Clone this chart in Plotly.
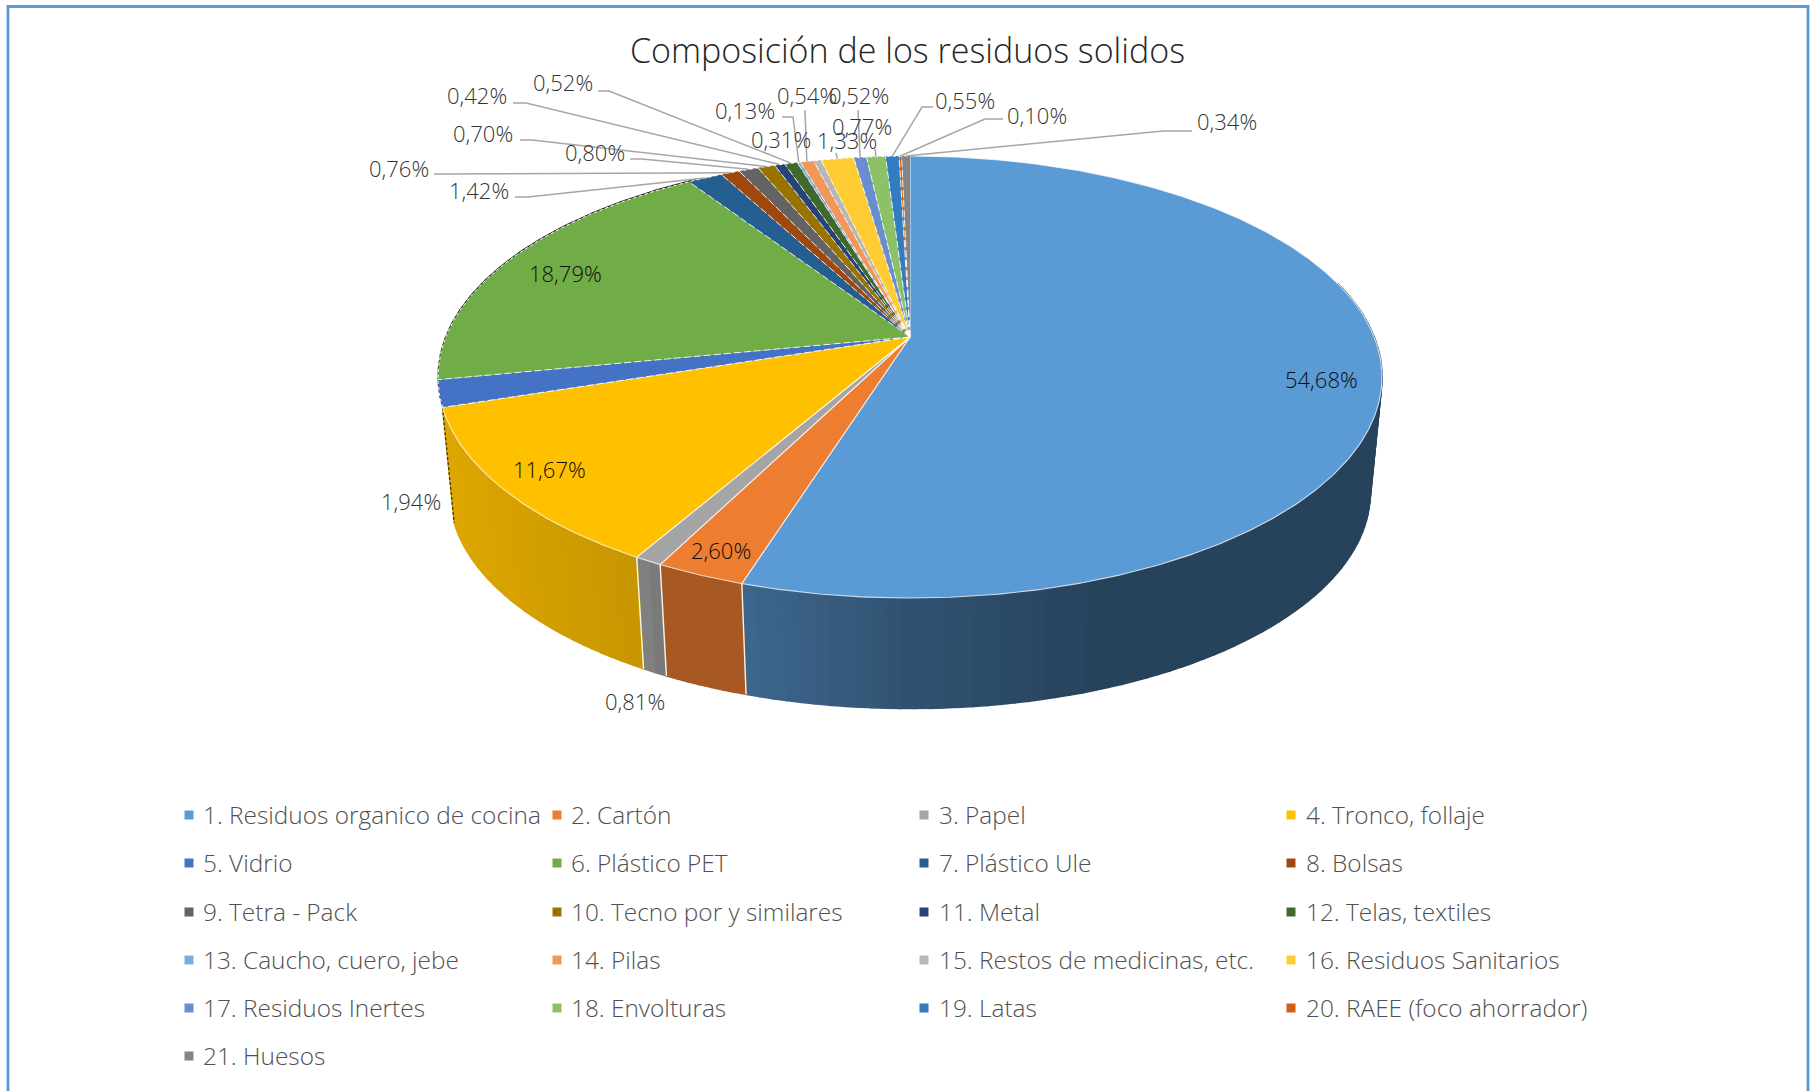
import numpy as np
import plotly.graph_objects as go

# Waste composition data (percent)
CATEGORIES = [
    "1. Residuos organico de cocina", "2. Cartón", "3. Papel", "4. Tronco, follaje",
    "5. Vidrio", "6. Plástico PET", "7. Plástico Ule", "8. Bolsas",
    "9. Tetra - Pack", "10. Tecno por y similares", "11. Metal", "12. Telas, textiles",
    "13. Caucho, cuero, jebe", "14. Pilas", "15. Restos de medicinas, etc.", "16. Residuos Sanitarios",
    "17. Residuos Inertes", "18. Envolturas", "19. Latas", "20. RAEE (foco ahorrador)",
    "21. Huesos",
]
VALUES = [54.68, 2.60, 0.81, 11.67, 1.94, 18.79, 1.42, 0.76, 0.80, 0.70, 0.42,
          0.52, 0.13, 0.54, 0.31, 1.33, 0.52, 0.77, 0.55, 0.10, 0.34]
COLORS = ["#5B9BD5", "#ED7D31", "#A5A5A5", "#FFC000", "#4472C4", "#70AD47", "#255E91",
          "#9E480E", "#636363", "#997300", "#264478", "#43682B", "#7CAFDD", "#F1975A",
          "#B7B7B7", "#FFCD33", "#698ED0", "#8CC168", "#327DC2", "#D26012", "#848484"]

W, H = 1815, 1091
FONT = "Open Sans"

# Perspective model of the pie disc, in page pixels
CX, Y_TOP, Y_BOT = 910.0, 337.0, 454.0
A, B, K, BOTTOM_SCALE = 464.2, 213.8, 0.181, 0.975
WALL_SLICES = 4  # only the first slices show a side wall from this viewpoint

# Wall brightness as a function of horizontal position
SHADE_X = [440, 640, 665, 742, 746, 910, 1100, 1380]
SHADE_F = [0.87, 0.78, 0.71, 0.71, 0.66, 0.53, 0.43, 0.43]

# Label centres and leader-line elbows, index-aligned with VALUES
LABEL_XY = [(1321, 379), (721, 550), (635, 701), (549, 469), (411, 501), (565, 273),
            (479, 190), (399, 168), (595, 152), (483, 133), (477, 95), (563, 82),
            (745, 110), (807, 95), (781, 139), (847, 140), (859, 95), (862, 126),
            (965, 100), (1037, 115), (1227, 121)]
LEADERS = [None, None, None, None, None, None,
           [(515, 197), (528, 197)], [(434, 174), (445, 174)], [(630, 159), (642, 159)],
           [(520, 140), (532, 140)], [(513, 103), (526, 103)], [(598, 91), (609, 91)],
           [(782, 117), (793, 117)], [(805, 110)], None, [(836, 153)],
           [(858, 110)], [(875, 149)], [(933, 107), (922, 107)], [(1003, 119), (985, 119)],
           [(1192, 131), (1163, 131)]]
DARK_LABELS = {0, 1, 3, 5}

LEGEND_MARK_X = [189, 557, 924, 1291]
LEGEND_TEXT_X = [201, 569, 937, 1304]
LEGEND_MARK_Y = [815, 863, 912, 960, 1008, 1056]
LEGEND_TEXT_DY = -1


def project(theta, bottom=False):
    """Map an angle clockwise from 12 o'clock on the disc rim to page pixels."""
    u, v = np.sin(theta), -np.cos(theta)
    d = 1 - K * v
    s = BOTTOM_SCALE if bottom else 1.0
    y0 = Y_BOT if bottom else Y_TOP
    return CX + s * A * u / d, y0 + s * B * v / d


def shade(color, x):
    f = float(np.interp(x, SHADE_X, SHADE_F))
    r, g, b = (int(color[i:i + 2], 16) for i in (1, 3, 5))
    return f"rgb({r * f:.0f},{g * f:.0f},{b * f:.0f})"


edges = np.concatenate([[0], np.cumsum(VALUES)]) / sum(VALUES) * 2 * np.pi
mids = (edges[:-1] + edges[1:]) / 2

fig = go.Figure()

# Side wall, drawn as narrow strips so the shading can vary along the rim
for i, color in enumerate(COLORS[:WALL_SLICES]):
    t0, t1 = edges[i], edges[i + 1]
    steps = max(1, int(np.ceil((t1 - t0) / np.radians(1.5))))
    grid = np.linspace(t0, t1, steps + 1)
    for a, b in zip(grid[:-1], grid[1:]):
        if -np.cos((a + b) / 2) < -0.25:
            continue
        xt, yt = project(np.array([a, b]))
        xb, yb = project(np.array([b, a]), bottom=True)
        c = shade(color, float(xt.mean()))
        fig.add_trace(go.Scatter(
            x=list(xt) + list(xb) + [xt[0]], y=list(yt) + list(yb) + [yt[0]],
            mode="lines", fill="toself", fillcolor=c, line=dict(color=c, width=1.6),
            hoverinfo="skip", showlegend=False))

# Light seams between the slices on the wall
for t in edges[1:WALL_SLICES]:
    xt, yt = project(t)
    xb, yb = project(t, bottom=True)
    fig.add_trace(go.Scatter(x=[xt, xb], y=[yt, yb], mode="lines",
                             line=dict(color="rgba(255,250,235,0.95)", width=1.4),
                             hoverinfo="skip", showlegend=False))

# Dark dashed edge where the wall of the far slices is seen edge-on
xt, yt = project(edges[WALL_SLICES])
xb, yb = project(edges[WALL_SLICES], bottom=True)
fig.add_trace(go.Scatter(x=[xt, xb], y=[yt, yb], mode="lines",
                         line=dict(color="#303030", width=1.2, dash="3px,2px"),
                         hoverinfo="skip", showlegend=False))
arc = np.linspace(edges[WALL_SLICES] - 0.02, edges[6] + 0.02, 160)
xa, ya = project(arc)
fig.add_trace(go.Scatter(x=xa, y=ya - 0.6, mode="lines",
                         line=dict(color="#202020", width=1.2),
                         hoverinfo="skip", showlegend=False))

# Top face of every slice
for i, (name, value, color) in enumerate(zip(CATEGORIES, VALUES, COLORS)):
    t0, t1 = edges[i], edges[i + 1]
    arc = np.linspace(t0, t1, max(2, int((t1 - t0) / np.radians(0.5)) + 2))
    xa, ya = project(arc)
    fig.add_trace(go.Scatter(
        x=[CX] + list(xa) + [CX], y=[Y_TOP] + list(ya) + [Y_TOP],
        mode="lines", fill="toself", fillcolor=color,
        line=dict(color="rgba(255,255,255,0.75)" if i < WALL_SLICES else "rgba(0,0,0,0)", width=1.1),
        name=name, text=f"{value:.2f}%".replace(".", ","), hoverinfo="name+text",
        showlegend=False))

# Broken white seams and rim on the far slices
for t in edges[WALL_SLICES:-1]:
    xe, ye = project(t)
    fig.add_trace(go.Scatter(x=[CX, xe], y=[Y_TOP, ye], mode="lines",
                             line=dict(color="rgba(255,255,255,0.85)", width=1.0, dash="7px,3px"),
                             hoverinfo="skip", showlegend=False))
arc = np.linspace(edges[WALL_SLICES], edges[-1], 220)
xa, ya = project(arc)
fig.add_trace(go.Scatter(x=xa, y=ya, mode="lines",
                         line=dict(color="white", width=1.0, dash="3px,3px"),
                         hoverinfo="skip", showlegend=False))

# Leader lines run from the label elbow to the middle of the slice's rim
for mid, elbow in zip(mids, LEADERS):
    if elbow is None:
        continue
    px, py = project(mid)
    fig.add_trace(go.Scatter(
        x=[p[0] for p in elbow] + [px], y=[p[1] for p in elbow] + [py],
        mode="lines", line=dict(color="#A6A6A6", width=1.5),
        hoverinfo="skip", showlegend=False))

annotations = []


def add_text(x, y, text, size, color, anchor="center"):
    annotations.append(dict(x=x, y=y, xref="x", yref="y", text=text, showarrow=False,
                            xanchor=anchor, yanchor="middle",
                            font=dict(family=FONT, size=size, color=color, weight=300)))


add_text(907.5, 50, "Composición de los residuos solidos", 34, "#262626")

for i, (value, (lx, ly)) in enumerate(zip(VALUES, LABEL_XY)):
    add_text(lx, ly, f"{value:.2f}%".replace(".", ","), 22,
             "#0D0D0D" if i in DARK_LABELS else "#333333")

# Legend laid out in four columns
for i, (name, color) in enumerate(zip(CATEGORIES, COLORS)):
    col, row = i % 4, i // 4
    fig.add_trace(go.Scatter(x=[LEGEND_MARK_X[col]], y=[LEGEND_MARK_Y[row]], mode="markers",
                             marker=dict(symbol="square", size=9, color=color),
                             hoverinfo="skip", showlegend=False))
    add_text(LEGEND_TEXT_X[col], LEGEND_MARK_Y[row] + LEGEND_TEXT_DY, name, 24.4, "#505050", anchor="left")

# Chart frame
shapes = [dict(type="rect", xref="x", yref="y", x0=8, y0=6.5, x1=1808, y1=1100,
               line=dict(color="#5B9BD5", width=2.8), fillcolor="rgba(0,0,0,0)")]

fig.update_layout(
    width=W, height=H, margin=dict(l=0, r=0, t=0, b=0),
    paper_bgcolor="white", plot_bgcolor="white", showlegend=False,
    annotations=annotations, shapes=shapes,
    xaxis=dict(range=[0, W], visible=False, fixedrange=True),
    yaxis=dict(range=[H, 0], visible=False, fixedrange=True),
)
fig.write_html("out.html", config=dict(displayModeBar=False))
